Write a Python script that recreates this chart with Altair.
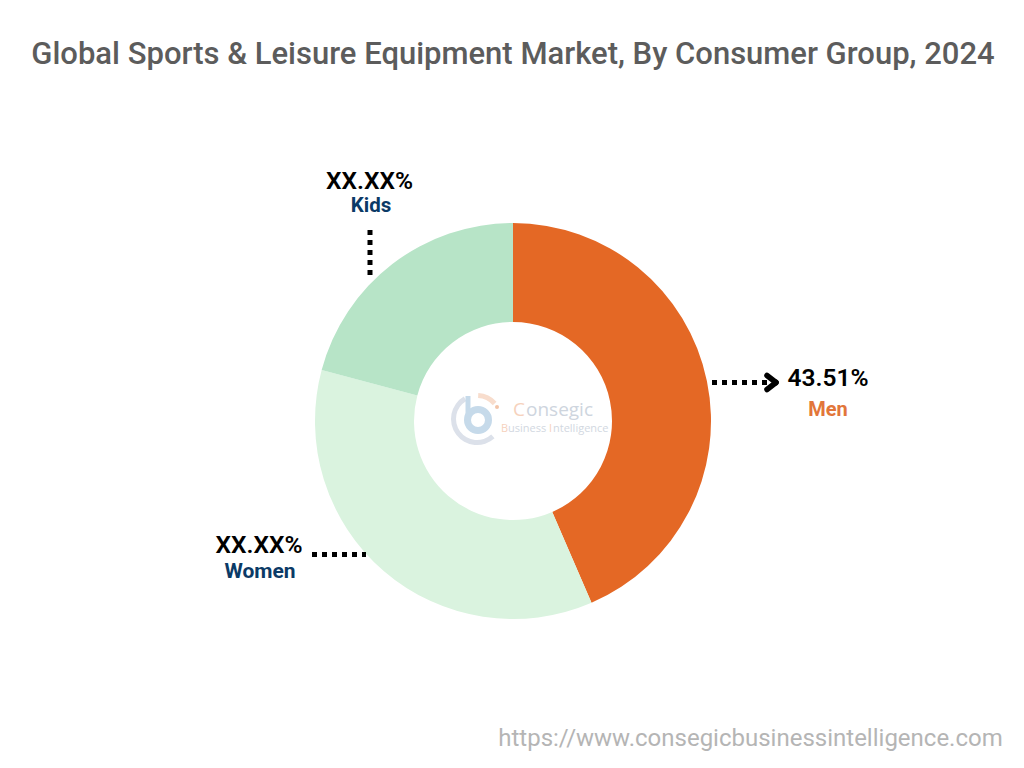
import pandas as pd
import altair as alt

groups = ['Men', 'Women', 'Kids']
shares = [43.51, 35.63, 20.86]
colors = ['#E46825', '#DAF3DF', '#B7E4C7']

title_text = 'Global Sports & Leisure Equipment Market, By Consumer Group, 2024'
site_text = 'https://www.consegicbusinessintelligence.com'
pct_labels = ['43.51%', 'XX.XX%', 'XX.XX%']
NAVY = '#0B3A66'
MEN_TEXT = '#E2763A'

pie = pd.DataFrame({'group': groups, 'share': shares, 'order': [0, 1, 2]})

# offset by the 8px page margin
def px(v):
    return alt.value(v - 8)

def txt(s, x, y, size, color, weight=400, align='center', font='Roboto'):
    return alt.Chart(pd.DataFrame({'t': [s]})).mark_text(
        font=font, fontSize=size, color=color, fontWeight=weight, align=align, baseline='middle'
    ).encode(text='t:N', x=px(x), y=px(y))

def dots(x, x2, y, y2):
    return alt.Chart(pd.DataFrame({'a': [0]})).mark_rule(
        color='black', strokeWidth=5, strokeDash=[5, 5]
    ).encode(x=px(x), x2=px(x2), y=px(y), y2=px(y2))

def seg(x, x2, y, y2, color='black', w=5.5, cap='round'):
    return alt.Chart(pd.DataFrame({'a': [0]})).mark_rule(
        color=color, strokeWidth=w, strokeCap=cap
    ).encode(x=px(x), x2=px(x2), y=px(y), y2=px(y2))

def ring(cx, cy, r, r2, a, a2, color):
    return alt.Chart(pd.DataFrame({'a': [0]})).mark_arc(
        radius=r, radius2=r2, color=color
    ).encode(x=px(cx), y=px(cy), theta=alt.value(a), theta2=alt.value(a2))

donut = alt.Chart(pie).mark_arc(radius=198, radius2=99).encode(
    theta=alt.Theta('share:Q', stack=True, scale=alt.Scale(domain=[0, 100], range=[0, 6.28319])),
    order=alt.Order('order:Q'),
    color=alt.Color('group:N', scale=alt.Scale(domain=groups, range=colors), legend=None),
    x=px(513),
    y=px(421),
)

# faint logo in the hole
logo = [
    ring(477, 419, 26, 21, 2.4, 5.75, '#DCE1EA'),
    ring(478, 420, 14, 7, 0, 6.2832, '#C6DAEA'),
    seg(468, 468, 396, 420, '#C6DAEA', 5, 'butt'),
    ring(477, 419, 26, 21, 0.05, 0.85, '#F8DDCD'),
    ring(497, 407, 2, 0, 0, 6.2832, '#F2C4A8'),
    txt('C', 513, 410, 19, '#F6D2BD', align='left', font='Open Sans'),
    txt('onsegic', 526, 410, 19, '#CED5DE', align='left', font='Open Sans'),
    txt('B', 501, 429, 11, '#F6D2BD', align='left', font='Open Sans'),
    txt('usiness', 508, 429, 11, '#D2D8E1', align='left', font='Open Sans'),
    txt('I', 549, 429, 11, '#F6D2BD', align='left', font='Open Sans'),
    txt('ntelligence', 553, 429, 11, '#D2D8E1', align='left', font='Open Sans'),
]

layers = [donut] + logo + [
    txt(title_text, 513, 55, 31, '#5C5C5C', 500),
    txt(site_text, 750.5, 739, 24, '#B5B5B5'),
    # Men
    dots(712, 767, 382.5, 382.5),
    seg(767, 776, 375.5, 382.5),
    seg(767, 776, 389.5, 382.5),
    txt(pct_labels[0], 828, 378.5, 24.5, 'black', 600),
    txt(groups[0], 828, 409.5, 20, MEN_TEXT, 700),
    # Women
    dots(312, 366, 554.5, 554.5),
    txt(pct_labels[1], 259, 545.5, 24.5, 'black', 600),
    txt(groups[1], 260, 572, 21, NAVY, 700),
    # Kids
    dots(370, 370, 230, 276),
    txt(pct_labels[2], 369.5, 181.5, 24.5, 'black', 600),
    txt(groups[2], 371, 206, 20.5, NAVY, 700),
]

chart = alt.layer(*layers).properties(
    width=1008,
    height=750,
    padding=0,
    autosize=alt.AutoSizeParams(type='fit', contains='padding'),
).configure_view(stroke=None)

chart.save("out.html", embed_options={"renderer": "svg", "actions": False})
